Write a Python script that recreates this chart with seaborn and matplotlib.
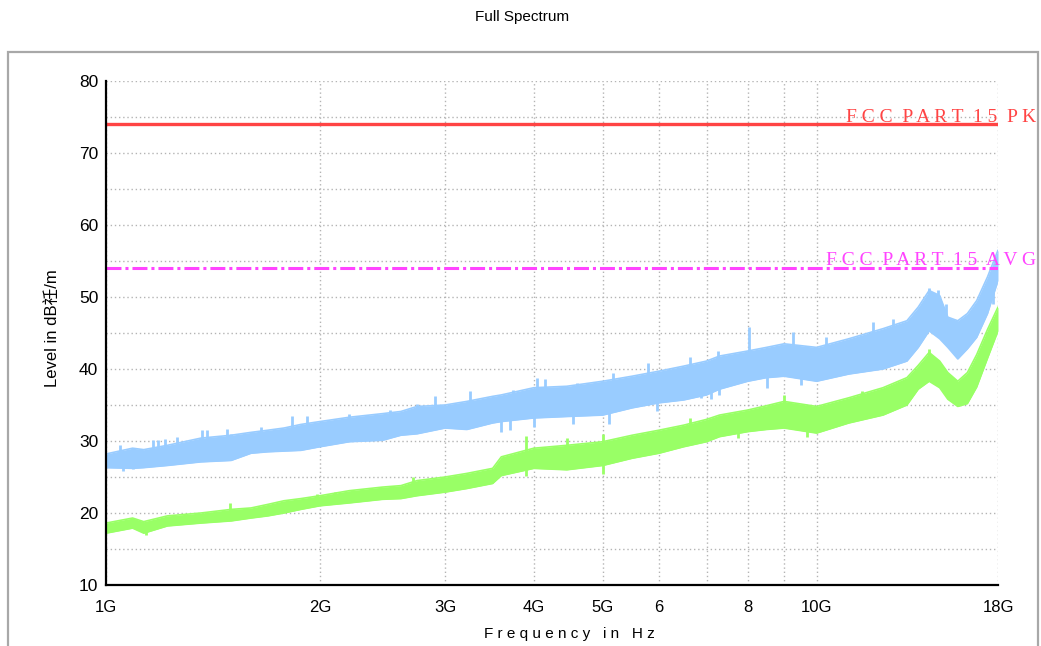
import numpy as np
import pandas as pd
import matplotlib
matplotlib.use("Agg")
import matplotlib.pyplot as plt
import seaborn as sns
from matplotlib.patches import Rectangle
from matplotlib.ticker import NullLocator, FixedLocator

# ---------------- data ----------------
freq_ghz = [1.0, 1.09, 1.13, 1.22, 1.36, 1.5, 1.6, 1.69, 1.78, 1.88, 2.0, 2.2, 2.45, 2.6,
            2.74, 3.0, 3.22, 3.5, 3.6, 4.0, 4.45, 5.0, 5.5, 6.0, 6.5, 7.0, 7.3, 8.0, 8.5,
            9.0, 10.0, 11.1, 12.4, 13.4, 13.9, 14.4, 14.9, 15.3, 15.8, 16.3, 16.8, 17.4, 18.0]

# Peak trace (blue) envelope
pk_hi = [28.2, 29.0, 28.8, 29.4, 30.4, 30.8, 31.2, 31.5, 31.8, 32.3, 32.7, 33.3, 33.8, 34.1,
         34.8, 35.0, 35.5, 36.2, 36.4, 37.4, 37.6, 38.3, 39.0, 39.7, 40.4, 41.1, 41.8, 42.5,
         43.0, 43.5, 43.0, 44.2, 45.6, 46.7, 48.6, 50.9, 50.2, 47.2, 46.7, 47.7, 49.5, 52.8, 56.5]
pk_lo = [26.3, 26.2, 26.3, 26.6, 27.1, 27.3, 28.3, 28.5, 28.6, 28.7, 29.2, 29.9, 30.1, 30.8,
         31.0, 31.8, 31.6, 32.5, 32.7, 33.2, 33.4, 33.6, 34.6, 35.3, 35.7, 36.4, 37.2, 38.3,
         38.8, 39.0, 38.3, 39.3, 40.0, 41.1, 43.0, 45.3, 44.2, 43.0, 41.4, 42.8, 44.4, 47.7, 52.3]

# Average trace (green) envelope
avg_hi = [18.6, 19.3, 18.8, 19.6, 20.0, 20.5, 20.7, 21.2, 21.7, 22.0, 22.4, 23.1, 23.6, 23.8,
          24.5, 25.0, 25.5, 26.2, 27.8, 29.0, 29.4, 29.9, 30.8, 31.5, 32.2, 33.0, 33.6, 34.3,
          34.9, 35.5, 34.8, 36.0, 37.4, 38.8, 40.5, 42.3, 41.1, 39.5, 38.3, 39.5, 42.0, 45.5, 48.6]
avg_lo = [17.2, 17.9, 17.2, 18.2, 18.6, 18.9, 19.3, 19.6, 20.0, 20.5, 21.0, 21.4, 21.9, 22.0,
          22.4, 22.9, 23.4, 24.1, 25.2, 26.2, 26.0, 26.6, 27.6, 28.3, 29.2, 29.9, 30.6, 31.3,
          31.6, 31.8, 31.1, 32.5, 33.6, 35.0, 37.2, 38.3, 37.4, 35.8, 34.8, 35.2, 37.5, 41.5, 45.3]

# Isolated spikes above / dips below the envelopes
pk_spike_f = [1.047, 1.165, 1.184, 1.21, 1.258, 1.365, 1.387, 1.48, 1.5, 1.61, 1.65, 1.83,
              1.92, 2.2, 2.51, 2.74, 2.9, 3.25, 3.74, 4.04, 4.15, 4.6, 5.17, 5.8, 6.63,
              7.27, 8.03, 9.27, 10.3, 12.0, 12.8, 14.4, 14.8, 15.2]
pk_spike_v = [29.4, 30.2, 30.2, 30.3, 30.6, 31.5, 31.5, 31.7, 31.0, 31.3, 32.0, 33.5,
              33.5, 33.8, 34.3, 35.2, 36.2, 36.9, 37.1, 38.8, 38.6, 38.1, 39.5, 40.9, 41.6,
              42.5, 45.8, 45.1, 44.4, 46.5, 47.0, 51.2, 51.0, 49.0]
pk_dip_f = [1.057, 1.09, 3.6, 3.7, 4.0, 4.54, 5.1, 5.96, 6.87, 7.1, 7.3, 8.52, 9.5, 17.7]
pk_dip_v = [25.8, 26.1, 31.3, 31.5, 32.0, 32.3, 32.3, 34.1, 36.0, 35.9, 36.4, 37.4, 37.8, 49.0]

avg_spike_f = [1.495, 1.98, 2.1, 2.7, 3.9, 4.45, 5.0, 6.63, 9.0, 11.6, 14.4]
avg_spike_v = [21.4, 22.7, 22.9, 25.0, 30.7, 30.4, 31.0, 33.2, 36.4, 37.0, 42.8]
avg_dip_f = [1.14, 3.9, 5.0, 7.75, 9.7]
avg_dip_v = [16.9, 25.2, 25.4, 30.4, 30.6]

limit_pk = 74
limit_avg = 54
limit_pk_label = "F C C  P A R T  1 5  P K"
limit_avg_label = "F C C  P A R T  1 5  A V G"

x_ticks = [1, 2, 3, 4, 5, 6, 7, 8, 9, 10, 18]
x_tick_labels = ["1G", "2G", "3G", "4G", "5G", "6", "", "8", "", "10G", "18G"]
y_major = [10, 20, 30, 40, 50, 60, 70, 80]
y_minor = [15, 25, 35, 45, 55, 65, 75]

title = "Full Spectrum"
x_label = "F r e q u e n c y   i n   H z"
y_label = "Level in dB祍/m"

# ---------------- style ----------------
sns.set_theme(style="white")
plt.rcParams["font.family"] = ["Liberation Sans", "Noto Sans CJK SC", "DejaVu Sans"]

W, H = 1041, 646
fig = plt.figure(figsize=(W / 100, H / 100), dpi=100)
ax = fig.add_axes([106 / W, 1 - 585 / H, (998 - 106) / W, (585 - 81) / H])
ax.set_xscale("log")

blue = "#99CCFF"
green = "#99FF66"
red = "#FF4444"
magenta = "#FF44FF"

df_pk = pd.DataFrame({"f": freq_ghz, "lo": pk_lo, "hi": pk_hi})
df_avg = pd.DataFrame({"f": freq_ghz, "lo": avg_lo, "hi": avg_hi})


def mid(fs, lo, hi):
    return (np.interp(fs, freq_ghz, lo) + np.interp(fs, freq_ghz, hi)) / 2


ax.fill_between(df_pk["f"], df_pk["lo"], df_pk["hi"], color=blue, lw=0, zorder=3)
sns.lineplot(data=df_pk, x="f", y="hi", color=blue, lw=1.2, ax=ax, zorder=3)
sns.lineplot(data=df_pk, x="f", y="lo", color=blue, lw=1.2, ax=ax, zorder=3)
ax.vlines(pk_spike_f, mid(pk_spike_f, pk_lo, pk_hi), pk_spike_v, color=blue, lw=2.0, zorder=3)
ax.vlines(pk_dip_f, mid(pk_dip_f, pk_lo, pk_hi), pk_dip_v, color=blue, lw=2.0, zorder=3)

ax.fill_between(df_avg["f"], df_avg["lo"], df_avg["hi"], color=green, lw=0, zorder=4)
sns.lineplot(data=df_avg, x="f", y="hi", color=green, lw=1.2, ax=ax, zorder=4)
sns.lineplot(data=df_avg, x="f", y="lo", color=green, lw=1.2, ax=ax, zorder=4)
ax.vlines(avg_spike_f, mid(avg_spike_f, avg_lo, avg_hi), avg_spike_v, color=green, lw=2.0, zorder=4)
ax.vlines(avg_dip_f, mid(avg_dip_f, avg_lo, avg_hi), avg_dip_v, color=green, lw=2.0, zorder=4)

lim_df = pd.DataFrame({"f": [1, 18], "pk": [limit_pk] * 2, "avg": [limit_avg] * 2})
sns.lineplot(data=lim_df, x="f", y="pk", color=red, lw=2.4, ax=ax, zorder=5)
sns.lineplot(data=lim_df, x="f", y="avg", color=magenta, lw=2.2, ax=ax, zorder=5)
ax.lines[-1].set_dashes([4.9, 1.3, 1.0, 1.3])

serif = ["Liberation Serif", "DejaVu Serif"]
ax.annotate(limit_pk_label, xy=(1036 / W, limit_pk + 0.35), xycoords=("figure fraction", "data"),
            ha="right", va="baseline", color=red, fontsize=14, family=serif,
            annotation_clip=False, zorder=6)
ax.annotate(limit_avg_label, xy=(1036 / W, limit_avg + 0.45), xycoords=("figure fraction", "data"),
            ha="right", va="baseline", color=magenta, fontsize=14, family=serif,
            annotation_clip=False, zorder=6)

ax.set_xlim(1, 18)
ax.set_ylim(10, 80)
ax.xaxis.set_major_locator(FixedLocator(x_ticks))
ax.set_xticklabels(x_tick_labels)
ax.xaxis.set_minor_locator(NullLocator())
ax.yaxis.set_major_locator(FixedLocator(y_major))
ax.yaxis.set_minor_locator(FixedLocator(y_minor))

grid_kw = dict(color="#b4b4b4", lw=1.0, ls=(0, (1, 2)))
ax.grid(True, axis="y", which="both", **grid_kw)
ax.grid(True, axis="x", which="major", **grid_kw)
ax.set_axisbelow(True)

for s in ["top", "right"]:
    ax.spines[s].set_visible(False)
for s in ["left", "bottom"]:
    ax.spines[s].set_color("black")
    ax.spines[s].set_linewidth(1.6)
    ax.spines[s].set_zorder(7)

ax.tick_params(axis="both", which="both", direction="inout", length=9, width=1.3,
               color="black", labelcolor="black")
ax.tick_params(axis="y", labelsize=12.5, pad=1)
ax.tick_params(axis="x", labelsize=12, pad=6)
ax.set_xlabel("")
ax.set_ylabel("")

fig.text(522 / W, 1 - 17 / H, title, ha="center", va="center", fontsize=11, color="black")
fig.text(569 / W, 1 - 634 / H, x_label, ha="center", va="center", fontsize=11, color="black")
fig.text(52 / W, 1 - 328 / H, y_label, ha="center", va="center", rotation=90,
         fontsize=12, color="black")

fig.add_artist(Rectangle((8 / W, -0.05), 1030 / W, (H - 52) / H + 0.05,
                         transform=fig.transFigure, fill=False, ec="#a8a8a8", lw=1.6))

fig.savefig("out.png", dpi=100, facecolor="white")
